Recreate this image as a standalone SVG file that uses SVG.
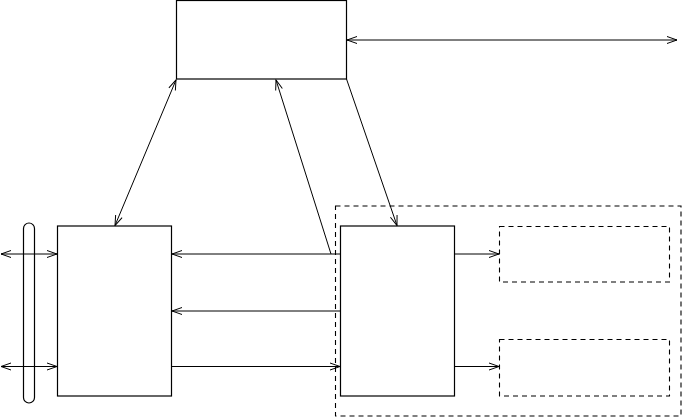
<svg xmlns="http://www.w3.org/2000/svg" width="682" height="417" viewBox="0 0 682 417">
<style>
.box{fill:none;stroke:#000;stroke-width:1.2}
.dash{fill:none;stroke:#000;stroke-width:1.1;stroke-dasharray:5,4}
.c{fill:none;stroke:#000;stroke-width:1}
</style>
<defs>
<marker id="ah" viewBox="-11 -5 12 10" markerWidth="12" markerHeight="10" refX="0" refY="0" orient="auto-start-reverse" markerUnits="userSpaceOnUse">
<path d="M-10,-3.5 L0,0 L-10,3.5" fill="none" stroke="#000" stroke-width="1"/>
</marker>
</defs>
<rect width="682" height="417" fill="#fff"/>
<g id="top"><rect class="box" x="176.5" y="0.5" width="170" height="78.5"/></g>
<g id="left"><rect class="box" x="57.5" y="226" width="114" height="170"/></g>
<g id="bus"><rect class="box" x="23.5" y="223" width="11" height="180" rx="5.5"/></g>
<g id="group"><rect class="dash" x="335.5" y="206" width="345.5" height="210"/></g>
<g id="mid"><rect class="box" x="340.5" y="226" width="114" height="170"/></g>
<g id="out1"><rect class="dash" x="499.5" y="226.5" width="170" height="55.5"/></g>
<g id="out2"><rect class="dash" x="499.5" y="339.5" width="170" height="56.5"/></g>
<g id="connectors">
<line class="c" x1="1" y1="254" x2="57" y2="254" marker-start="url(#ah)" marker-end="url(#ah)"/>
<line class="c" x1="1" y1="366.5" x2="57" y2="366.5" marker-start="url(#ah)" marker-end="url(#ah)"/>
<line class="c" x1="115" y1="225.5" x2="176" y2="80" marker-start="url(#ah)" marker-end="url(#ah)"/>
<line class="c" x1="331" y1="254" x2="276" y2="80" marker-end="url(#ah)"/>
<line class="c" x1="346.5" y1="79" x2="397" y2="225.5" marker-end="url(#ah)"/>
<line class="c" x1="347" y1="40" x2="677" y2="40" marker-start="url(#ah)" marker-end="url(#ah)"/>
<line class="c" x1="340" y1="254" x2="172" y2="254" marker-end="url(#ah)"/>
<line class="c" x1="340" y1="311" x2="172" y2="311" marker-end="url(#ah)"/>
<line class="c" x1="172" y1="366.5" x2="340" y2="366.5" marker-end="url(#ah)"/>
<line class="c" x1="455" y1="254" x2="499" y2="254" marker-end="url(#ah)"/>
<line class="c" x1="455" y1="366.5" x2="499" y2="366.5" marker-end="url(#ah)"/>
</g>
</svg>
